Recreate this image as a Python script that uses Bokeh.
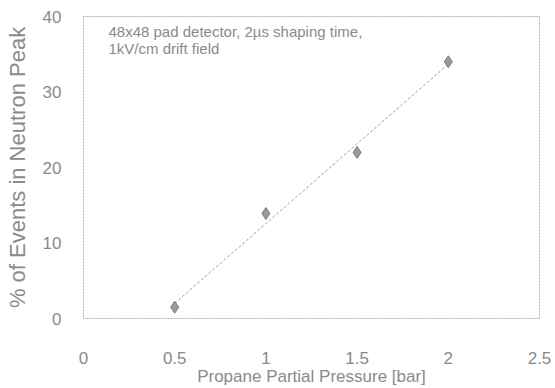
import numpy as np
from bokeh.plotting import figure
from bokeh.models import Label, Range1d, FixedTicker
from bokeh.embed import file_html
from bokeh.resources import INLINE

pressure = [0.5, 1.0, 1.5, 2.0]
events = [1.5, 13.9, 22.0, 34.0]
x_ticks = [0, 0.5, 1, 1.5, 2, 2.5]
y_ticks = [0, 10, 20, 30, 40]

gray = "#8a8a8a"
font = "Liberation Sans"

p = figure(width=555, height=388, output_backend="svg", toolbar_location=None,
           x_range=Range1d(0, 2.5), y_range=Range1d(0, 40),
           min_border_left=83, min_border_right=16, min_border_top=16, min_border_bottom=70)
p.grid.visible = False
p.outline_line_color = "#b0b0b0"
p.outline_line_dash = "2 1"
p.outline_line_width = 1

for ax in (p.xaxis, p.yaxis):
    ax.axis_line_color = None
    ax.major_tick_line_color = None
    ax.minor_tick_line_color = None
    ax.major_label_text_color = gray
    ax.major_label_text_font = font
    ax.major_label_text_font_size = "17px"
    ax.axis_label_text_color = gray
    ax.axis_label_text_font = font
    ax.axis_label_text_font_style = "normal"

p.xaxis.axis_label_text_font_size = "17px"
p.yaxis.axis_label_text_font_size = "22px"
p.xaxis.ticker = FixedTicker(ticks=x_ticks)
p.yaxis.ticker = FixedTicker(ticks=y_ticks)
p.xaxis.major_label_standoff = 27
p.yaxis.major_label_standoff = 16
p.xaxis.axis_label = "Propane Partial Pressure [bar]"
p.yaxis.axis_label = "% of Events in Neutron Peak"
p.xaxis.axis_label_standoff = 0
p.yaxis.axis_label_standoff = 10

slope, intercept = np.polyfit(pressure, events, 1)
fx = [pressure[0], pressure[-1]]
fy = [slope * v + intercept for v in fx]
p.line(fx, fy, line_color="#a0a0a0", line_width=1, line_dash="3 2")

p.scatter(pressure, events, marker="diamond", size=12, fill_color="#9a9a9a",
          line_color="#7a7a7a", line_width=1)

p.add_layout(Label(x=0.137, y=39.1, text="48x48 pad detector, 2\u00b5s shaping time,",
                   text_baseline="top", text_color=gray, text_font=font, text_font_size="15px"))
p.add_layout(Label(x=0.137, y=36.9, text="1kV/cm drift field",
                   text_baseline="top", text_color=gray, text_font=font, text_font_size="15px"))

open("out.html", "w").write(file_html(p, INLINE))
